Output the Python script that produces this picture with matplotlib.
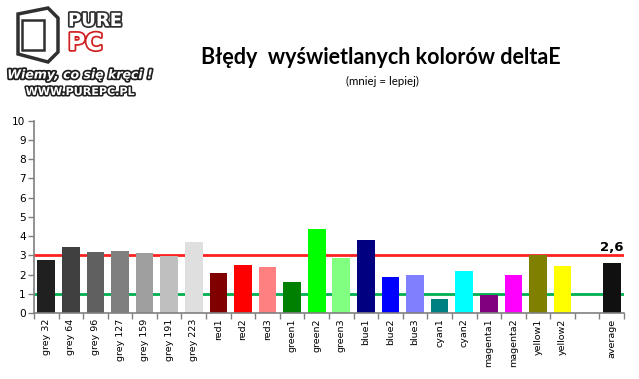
import matplotlib
matplotlib.use("Agg")
import matplotlib.pyplot as plt
import matplotlib.patheffects as pe
from matplotlib.patches import Rectangle, Polygon
import numpy as np

categories = ["grey 32", "grey 64", "grey 96", "grey 127", "grey 159", "grey 191", "grey 223",
              "red1", "red2", "red3", "green1", "green2", "green3",
              "blue1", "blue2", "blue3", "cyan1", "cyan2", "magenta1", "magenta2",
              "yellow1", "yellow2", "", "average"]
values = [2.76, 3.43, 3.17, 3.22, 3.12, 2.98, 3.69,
          2.08, 2.50, 2.39, 1.61, 4.37, 2.86,
          3.80, 1.87, 1.98, 0.73, 2.18, 0.94, 1.98,
          3.02, 2.44, np.nan, 2.60]
colors = ["#202020", "#404040", "#606060", "#7f7f7f", "#9f9f9f", "#bfbfbf", "#dfdfdf",
          "#800000", "#ff0000", "#ff8080", "#008000", "#00ff00", "#80ff80",
          "#000080", "#0000ff", "#8080ff", "#008080", "#00ffff", "#800080", "#ff00ff",
          "#808000", "#ffff00", "#ffffff", "#101010"]
red_limit = 3.0
green_limit = 1.0
avg_label = "2,6"

W, H = 639, 379
fig = plt.figure(figsize=(W / 100, H / 100), dpi=100)
x0, x1 = 34, 624
y0, y1 = 313, 120.7
ax = fig.add_axes([x0 / W, 1 - y0 / H, (x1 - x0) / W, (y0 - y1) / H])

n = len(categories)
x = np.arange(n)
ax.axhline(red_limit, color="#ff2020", lw=2.0, zorder=1)
ax.axhline(green_limit, color="#00b050", lw=2.0, zorder=1)
vals = [0 if np.isnan(v) else v for v in values]
ax.bar(x, vals, width=0.72, color=colors, zorder=2)

ax.set_xlim(-0.5, n - 0.5)
ax.set_ylim(0, 10)
ax.set_yticks(range(0, 11))
ax.set_yticklabels([str(i) for i in range(0, 11)], fontsize=7.6, fontfamily="DejaVu Sans")
ax.set_xticks(x)
ax.set_xticklabels(categories, rotation=90, fontsize=6.8, va="top")
ax.set_xticks(np.arange(-0.5, n, 1), minor=True)
ax.tick_params(axis="x", which="major", length=0, pad=4)
ax.tick_params(axis="x", which="minor", length=4, color="#808080", width=1)
ax.tick_params(axis="y", length=4, color="#808080", width=1, pad=2)

for s in ["top", "right"]:
    ax.spines[s].set_visible(False)
for s in ["left", "bottom"]:
    ax.spines[s].set_color("#808080")
    ax.spines[s].set_linewidth(1.2)

ax.annotate(avg_label, (x[-1], values[-1]), xytext=(0, 11), textcoords="offset points",
            ha="center", va="center", fontsize=9.5, fontweight="bold")

fig.text(381 / W, 1 - 58 / H, "Błędy  wyświetlanych kolorów deltaE", ha="center", va="center",
         fontsize=15.5, fontweight="bold", family="Lato")
fig.text(382 / W, 1 - 81.5 / H, "(mniej = lepiej)", ha="center", va="center",
         fontsize=8.3, family="Lato")

# logo approximation
box = Polygon([[18 / W, 1 - 14 / H], [48 / W, 1 - 8 / H], [58 / W, 1 - 18 / H],
               [58 / W, 1 - 52 / H], [48 / W, 1 - 62 / H], [18 / W, 1 - 54 / H]],
              closed=True, transform=fig.transFigure, facecolor="white",
              edgecolor="#303030", lw=2.5)
fig.add_artist(box)
fig.add_artist(Rectangle((22 / W, 1 - 50 / H), 22 / W, 30 / H, transform=fig.transFigure,
                         facecolor="white", edgecolor="#303030", lw=1.8))
t1 = fig.text(68 / W, 1 - 21 / H, "PURE", ha="left", va="center", fontsize=13, fontweight="bold",
              color="white", family="DejaVu Sans")
t1.set_path_effects([pe.withStroke(linewidth=2.5, foreground="#303030")])
t2 = fig.text(68 / W, 1 - 43 / H, "PC", ha="left", va="center", fontsize=17, fontweight="bold",
              color="white", family="DejaVu Sans")
t2.set_path_effects([pe.withStroke(linewidth=2.5, foreground="#d02020")])
t3 = fig.text(80 / W, 1 - 75 / H, "Wiemy, co się kręci !", ha="center", va="center",
              fontsize=9, fontweight="bold", fontstyle="italic", color="white")
t3.set_path_effects([pe.withStroke(linewidth=2.5, foreground="#202020")])
t4 = fig.text(80 / W, 1 - 92 / H, "WWW.PUREPC.PL", ha="center", va="center",
              fontsize=8, fontweight="bold", color="white")
t4.set_path_effects([pe.withStroke(linewidth=2.2, foreground="#202020")])

fig.savefig("out.png", dpi=100)
